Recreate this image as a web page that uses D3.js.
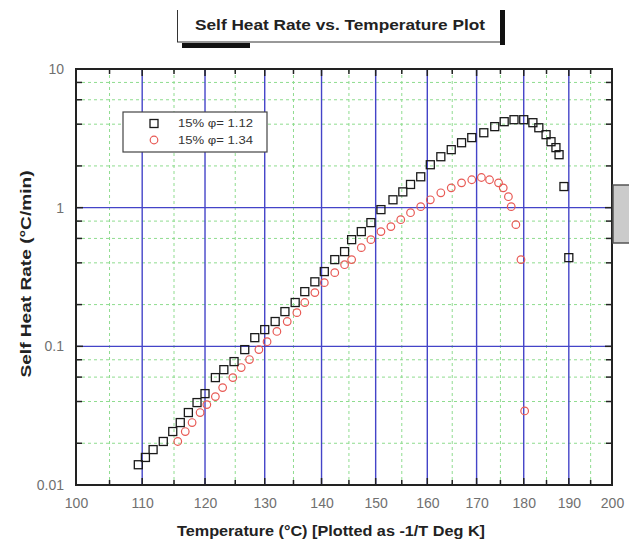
<!DOCTYPE html>
<html>
<head>
<meta charset="utf-8">
<script src="https://cdn.jsdelivr.net/npm/d3@7"></script>
<style>
  html, body { margin: 0; padding: 0; background: #fff; }
  svg { display: block; }
</style>
</head>
<body>
<script>
// Self heat rate data, two phi factors (temperature in °C, rate in °C/min)
const tempsPhi112 = [109.4,110.5,111.7,113.3,114.8,116.0,117.3,118.7,120.0,121.7,123.1,124.8,126.6,128.3,130.0,131.8,133.5,135.3,137.0,138.8,140.5,142.4,144.2,145.5,147.3,149.1,151.0,153.3,155.2,156.7,158.7,160.6,162.7,164.8,166.9,169.0,171.5,173.8,175.8,177.9,180.0,182.0,183.3,184.9,186.0,187.1,187.8,188.9,190.0];
const ratesPhi112 = [0.0140,0.0158,0.0180,0.0206,0.0243,0.0282,0.0333,0.0393,0.0456,0.0595,0.0679,0.0776,0.0947,0.1155,0.132,0.151,0.178,0.207,0.248,0.292,0.346,0.422,0.482,0.588,0.672,0.780,0.968,1.14,1.30,1.47,1.67,2.04,2.33,2.62,2.94,3.20,3.47,3.84,4.17,4.31,4.31,4.10,3.77,3.36,2.99,2.71,2.41,1.42,0.436];

const tempsPhi134 = [115.6,116.8,117.9,119.2,120.3,121.7,122.9,124.6,126.0,127.4,129.0,130.4,132.1,133.9,135.6,137.0,138.8,140.5,142.4,144.2,145.5,147.3,149.1,151.0,152.9,154.8,156.7,158.7,160.6,162.7,164.8,166.9,169.0,171.0,172.7,174.6,175.6,176.7,177.3,178.3,179.4,180.2];
const ratesPhi134 = [0.0206,0.0243,0.0282,0.0333,0.0380,0.0434,0.0504,0.0595,0.0703,0.0803,0.0947,0.108,0.128,0.151,0.175,0.207,0.244,0.288,0.340,0.388,0.422,0.515,0.588,0.672,0.730,0.819,0.920,1.017,1.14,1.28,1.39,1.51,1.59,1.65,1.59,1.51,1.39,1.20,1.017,0.754,0.422,0.0342];

const xTickTemps = [100,110,120,130,140,150,160,170,180,190,200];
const xMinorTemps = [105,115,125,135,145,155,165,175,185,195];
const yTickLabels = ["0.01","0.1","1","10"];
const yMinorMultiples = [2,4,6,8];

const legendLabels = ["15%  \u03C6= 1.12", "15%  \u03C6= 1.34"];
const titleText = "Self Heat Rate vs. Temperature Plot";
const xTitle = "Temperature (\u00B0C) [Plotted as -1/T Deg K]";
const yTitle = "Self Heat Rate (\u00B0C/min)";

const W = 629, H = 550;
const plotL = 76, plotR = 612, plotT = 69, plotB = 485;

const svg = d3.select("body").append("svg").attr("width", W).attr("height", H)
  .style("font-family", "'Liberation Sans', Arial, sans-serif");

// x axis is linear in -1/T (Kelvin)
const invT = t => -1 / (t + 273.15);
const xLin = d3.scaleLinear().domain([invT(100), invT(200)]).range([plotL, plotR]);
const x = t => xLin(invT(t));
const y = d3.scaleLog().domain([0.01, 10]).range([plotB, plotT]);

const yMinorVals = [];
[0.01, 0.1, 1].forEach(dec => yMinorMultiples.forEach(m => yMinorVals.push(dec * m)));

// Grid
const grid = svg.append("g");
grid.selectAll(".vminor").data(xMinorTemps).join("line")
  .attr("x1", d => x(d)).attr("x2", d => x(d)).attr("y1", plotT).attr("y2", plotB)
  .attr("stroke", "#8fdc8f").attr("stroke-width", 1).attr("stroke-dasharray", "3,3");
grid.selectAll(".hminor").data(yMinorVals).join("line")
  .attr("x1", plotL).attr("x2", plotR).attr("y1", d => y(d)).attr("y2", d => y(d))
  .attr("stroke", "#8fdc8f").attr("stroke-width", 1).attr("stroke-dasharray", "3,3");
grid.selectAll(".vmajor").data(xTickTemps.slice(1, -1)).join("line")
  .attr("x1", d => x(d)).attr("x2", d => x(d)).attr("y1", plotT).attr("y2", plotB)
  .attr("stroke", "#4444c8").attr("stroke-width", 1.4);
grid.selectAll(".hmajor").data([0.1, 1]).join("line")
  .attr("x1", plotL).attr("x2", plotR).attr("y1", d => y(d)).attr("y2", d => y(d))
  .attr("stroke", "#4444c8").attr("stroke-width", 1.4);

// Inward ticks on all four sides
const ticks = svg.append("g").attr("stroke", "#222").attr("stroke-width", 1.5);
const xt = xTickTemps.slice(1, -1).map(t => ({t, len: 7})).concat(xMinorTemps.map(t => ({t, len: 5})));
xt.forEach(d => {
  ticks.append("line").attr("x1", x(d.t)).attr("x2", x(d.t)).attr("y1", plotB).attr("y2", plotB - d.len);
  ticks.append("line").attr("x1", x(d.t)).attr("x2", x(d.t)).attr("y1", plotT).attr("y2", plotT + d.len);
});
const yt = [0.1, 1].map(v => ({v, len: 7})).concat(yMinorVals.map(v => ({v, len: 6})));
yt.forEach(d => {
  ticks.append("line").attr("x1", plotL).attr("x2", plotL + d.len).attr("y1", y(d.v)).attr("y2", y(d.v));
  ticks.append("line").attr("x1", plotR).attr("x2", plotR - d.len).attr("y1", y(d.v)).attr("y2", y(d.v));
});

// Tick labels
const xAxis = d3.axisBottom(xLin).tickValues(xTickTemps.map(invT))
  .tickFormat((d, i) => String(xTickTemps[i])).tickSize(0).tickPadding(13);
const gx = svg.append("g").attr("transform", `translate(0,${plotB})`).call(xAxis);
gx.select(".domain").remove();
gx.selectAll("text").attr("fill", "#707070").style("font-size", "14px");

const yAxis = d3.axisLeft(y).tickValues(yTickLabels.map(Number))
  .tickFormat((d, i) => yTickLabels[i]).tickSize(0).tickPadding(12);
const gy = svg.append("g").attr("transform", `translate(${plotL},0)`).call(yAxis);
gy.select(".domain").remove();
gy.selectAll("text").attr("fill", "#707070").style("font-size", "14px");

// Frame
svg.append("rect").attr("x", plotL).attr("y", plotT).attr("width", plotR - plotL).attr("height", plotB - plotT)
  .attr("fill", "none").attr("stroke", "#222").attr("stroke-width", 2);

// Series: open squares (phi 1.12) and open circles (phi 1.34)
const s1 = tempsPhi112.map((t, i) => ({t, v: ratesPhi112[i]}));
const s2 = tempsPhi134.map((t, i) => ({t, v: ratesPhi134[i]}));
svg.append("g").selectAll("circle").data(s2).join("circle")
  .attr("cx", d => x(d.t)).attr("cy", d => y(d.v)).attr("r", 3.8)
  .attr("fill", "none").attr("stroke", "#e85a55").attr("stroke-width", 1.2);
svg.append("g").selectAll("rect").data(s1).join("rect")
  .attr("x", d => x(d.t) - 4).attr("y", d => y(d.v) - 4).attr("width", 8).attr("height", 8)
  .attr("fill", "none").attr("stroke", "#1a1a1a").attr("stroke-width", 1.3);

// Legend
const lg = svg.append("g");
lg.append("rect").attr("x", 123).attr("y", 112).attr("width", 144).attr("height", 40)
  .attr("fill", "#fff").attr("stroke", "#444").attr("stroke-width", 1.2);
lg.append("rect").attr("x", 150).attr("y", 119.5).attr("width", 8).attr("height", 8)
  .attr("fill", "none").attr("stroke", "#1a1a1a").attr("stroke-width", 1.3);
lg.append("circle").attr("cx", 154).attr("cy", 140).attr("r", 3.8)
  .attr("fill", "none").attr("stroke", "#e85a55").attr("stroke-width", 1.2);
lg.selectAll("text").data(legendLabels).join("text")
  .attr("x", 178).attr("y", (d, i) => 127 + i * 17)
  .attr("textLength", 75).attr("lengthAdjust", "spacingAndGlyphs")
  .style("font-size", "10.5px").attr("fill", "#333").text(d => d);

// Axis titles
svg.append("text").attr("x", 331).attr("y", 536).attr("text-anchor", "middle")
  .attr("textLength", 308).attr("lengthAdjust", "spacingAndGlyphs")
  .style("font-size", "14px").style("font-weight", "bold").attr("fill", "#222").text(xTitle);
svg.append("text").attr("transform", "translate(31,274) rotate(-90)").attr("text-anchor", "middle")
  .attr("textLength", 207).attr("lengthAdjust", "spacingAndGlyphs")
  .style("font-size", "14px").style("font-weight", "bold").attr("fill", "#222").text(yTitle);

// Title box
const tb = svg.append("g");
tb.append("line").attr("x1", 177.5).attr("x2", 177.5).attr("y1", 10).attr("y2", 42).attr("stroke", "#333").attr("stroke-width", 1);
tb.append("line").attr("x1", 177).attr("x2", 503).attr("y1", 42).attr("y2", 42).attr("stroke", "#333").attr("stroke-width", 1);
tb.append("rect").attr("x", 500).attr("y", 10).attr("width", 5).attr("height", 35).attr("fill", "#111");
tb.append("rect").attr("x", 182).attr("y", 43).attr("width", 68).attr("height", 5).attr("fill", "#111");
tb.append("text").attr("x", 340).attr("y", 30).attr("text-anchor", "middle")
  .attr("textLength", 290).attr("lengthAdjust", "spacingAndGlyphs")
  .style("font-size", "15px").style("font-weight", "bold").attr("fill", "#222").text(titleText);

// Side panel edge
svg.append("rect").attr("x", 613).attr("y", 185).attr("width", 20).attr("height", 58)
  .attr("fill", "#cbcbcb").attr("stroke", "#555").attr("stroke-width", 1.5);
</script>
</body>
</html>
